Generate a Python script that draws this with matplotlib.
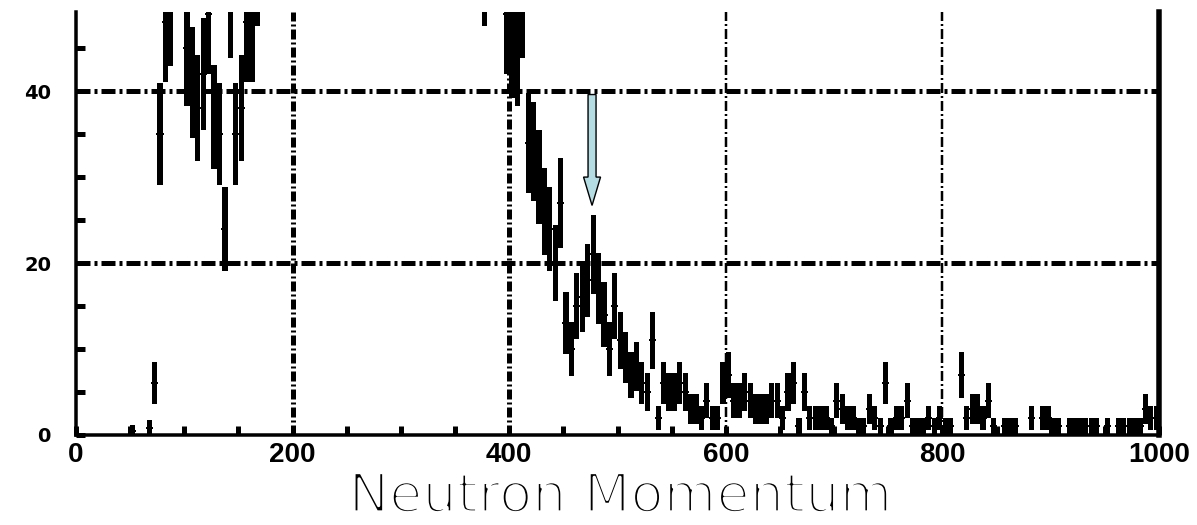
import numpy as np
import matplotlib.pyplot as plt
import matplotlib.patheffects as pe
from matplotlib.patches import FancyArrow

# low momentum group: bin centres and counts
low_p = [52.5, 67.5, 72.5, 77.5, 82.5, 87.5, 92.5, 97.5, 102.5, 107.5, 112.5,
         117.5, 122.5, 127.5, 132.5, 137.5, 142.5, 147.5, 152.5, 157.5, 162.5, 167.5]
low_n = [0.5, 0.8, 6, 35, 48, 50, 70, 68, 45, 41, 38,
         42, 49, 37, 35, 24, 51, 35, 38, 48, 48, 55]

# 377.5 ... 997.5, 5 MeV/c bins
high_p = np.arange(377.5, 1000, 5)
high_n = [55, 62, 66, 60, 49, 46, 45, 51, 34, 33,
          30, 26, 24, 20, 27, 13, 10, 15, 16, 18,
          21, 17, 14, 10, 15, 11, 9, 7, 8, 6,
          5, 11, 2, 6, 5, 5, 6, 5, 3, 3,
          2, 4, 2, 2, 6, 7, 4, 4, 5, 4,
          3, 3, 3, 4, 4, 2, 5, 6, 1, 5,
          2, 2, 2, 2, 1, 4, 3, 2, 2, 1,
          1, 3, 2, 1, 6, 1, 2, 2, 4, 1,
          1, 1, 2, 1, 2, 1, 1, 0, 7, 2,
          3, 3, 2, 4, 1, 0, 1, 1, 1, 0,
          0, 2, 0, 2, 2, 1, 1, 0, 1, 1,
          1, 1, 1, 1, 0, 1, 0, 1, 1, 1,
          1, 1, 3, 2, 2]

x_ticks = [0, 200, 400, 600, 800, 1000]
y_ticks = [0, 20, 40]
arrow_p = 476.5

p = np.concatenate([low_p, high_p])
n = np.concatenate([low_n, high_n]).astype(float)
keep = n > 0
p, n = p[keep], n[keep]
err = np.sqrt(n)

px = 72 / 100  # points per pixel at dpi 100
plt.rcParams['lines.scale_dashes'] = False

fig = plt.figure(figsize=(11.97, 5.25), dpi=100)
ax = fig.add_axes([76 / 1197, 90 / 525, 1083 / 1197, 423 / 525])

# error bars as solid blocks, with a short tick at the value
ax.bar(p, 2 * err, bottom=n - err, width=4.8, color='black', linewidth=0, zorder=3)
ax.hlines(n, p - 3.3, p + 3.3, color='black', linewidth=2 * px, zorder=3)

# dash-dot grid
for yv in [20, 40]:
    ax.axhline(yv, color='black', linewidth=5 * px,
               dashes=(14 * px, 4 * px, 3 * px, 4 * px), zorder=2)
for xv, w in [(200, 5), (400, 5), (600, 2.5), (800, 2.5)]:
    ax.axvline(xv, color='black', linewidth=w * px,
               dashes=(10 * px, 3 * px, 2 * px, 3 * px), zorder=2)

ax.add_patch(FancyArrow(arrow_p, 39.6, 0, -12.9, width=7.4, head_width=15.7, head_length=3.3,
                        length_includes_head=True, facecolor='#b3dde3', edgecolor='black',
                        linewidth=1, zorder=5))

ax.set_xlim(0, 1000)
ax.set_ylim(0, 49.2)

ax.spines['top'].set_visible(False)
ax.spines['left'].set_linewidth(3.5 * px)
ax.spines['bottom'].set_linewidth(3.5 * px)
ax.spines['right'].set_linewidth(5.5 * px)

ax.set_xticks(x_ticks)
ax.set_xticks(np.arange(0, 1001, 50), minor=True)
ax.set_yticks(y_ticks)
ax.set_yticks(np.arange(0, 50, 5), minor=True)
ax.tick_params(which='both', direction='in', length=9 * px, width=5 * px, right=False, top=False)
ax.tick_params(axis='y', which='major', pad=18)
ax.tick_params(axis='x', which='major', pad=5)
for lab in ax.get_yticklabels():
    lab.set_fontfamily('DejaVu Sans')
    lab.set_fontweight('bold')
    lab.set_fontsize(14)
for lab in ax.get_xticklabels():
    lab.set_fontfamily('Liberation Sans')
    lab.set_fontweight('bold')
    lab.set_fontsize(20)

# thin-stroked axis title
fig.text(0.518, 13 / 525, 'Neutron Momentum', ha='center', va='baseline',
         fontsize=39, fontfamily='DejaVu Sans',
         path_effects=[pe.Normal(), pe.Stroke(linewidth=2.4, foreground='white')])

fig.savefig('out.png', dpi=100)
